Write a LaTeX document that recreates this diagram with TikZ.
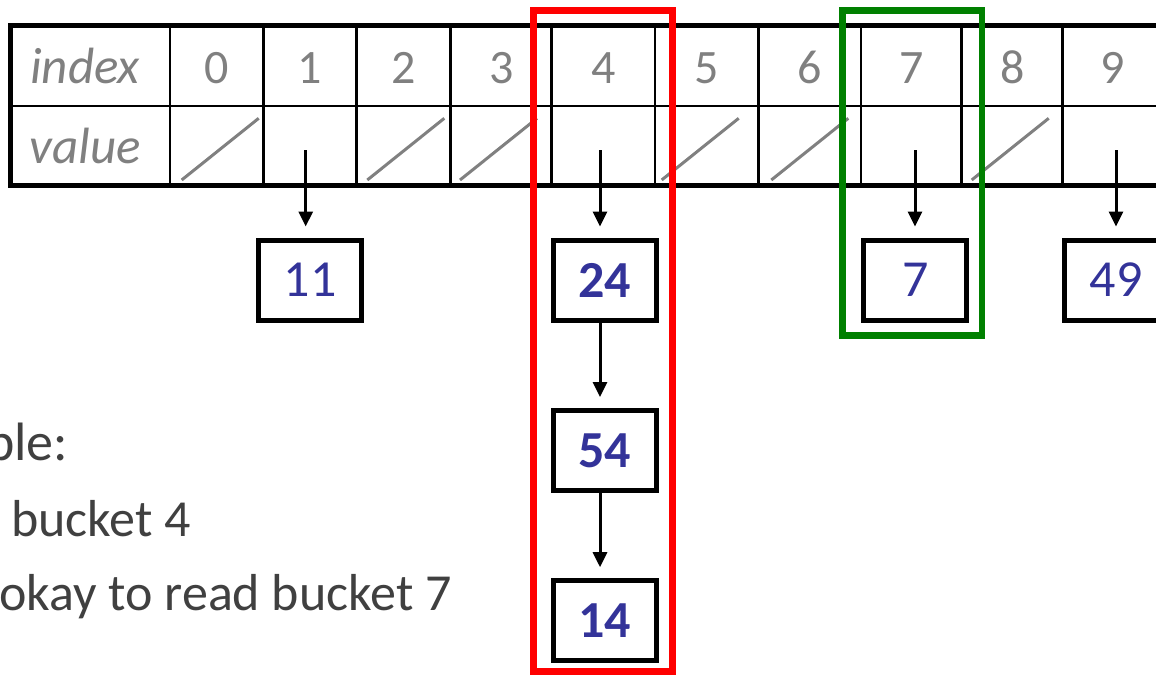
\documentclass[tikz,border=0pt]{standalone}
\usepackage{fontspec}
\setmainfont{Carlito}
\usetikzlibrary{arrows.meta}
\definecolor{numblue}{HTML}{333399}
\definecolor{txtgray}{HTML}{808080}
\definecolor{darktxt}{HTML}{404040}
\definecolor{lockred}{HTML}{FF0000}
\definecolor{readgreen}{HTML}{008000}
\begin{document}
\begin{tikzpicture}[x=1pt,y=-1pt,
  cellline/.style={line width=2.7pt,black},
  outerline/.style={line width=5pt,black},
  slash/.style={line width=3pt,txtgray},
  idx/.style={font=\fontsize{48}{58}\selectfont,text=txtgray,anchor=base,inner sep=0pt},
  rowlabel/.style={idx,font=\fontsize{51}{60}\selectfont\itshape},
  bucket/.style={draw,line width=5pt,minimum width=103pt,minimum height=80pt,inner sep=0pt,font=\fontsize{52}{62}\selectfont,text=numblue},
  ptr/.style={line width=3pt,-{Triangle[width=14pt,length=15pt]},shorten >=11pt},
  note/.style={anchor=base west,inner sep=0pt,text=darktxt},
  hilite/.style={draw,fill=none}]
\useasboundingbox (0,0) rectangle (1156,675);
\clip (0,0) rectangle (1156,675);
% table lines
\foreach \x in {170,263.5,356.7,450.7,551.7,655,758.3,861,961.7,1062.7}
  \draw[cellline] (\x,25.5) -- (\x,185.5);
\draw[cellline] (10.5,106) -- (1170,106);
\draw[outerline] (1170,25.5) -- (10.5,25.5) -- (10.5,185.5) -- (1170,185.5);
% empty-bucket slashes
\foreach \x in {181.7,367.3,460,661.7,771.3,971.7}
  \draw[slash] (\x,180) -- ++(77,-61.7);
% labels
\node[rowlabel] (lidx) at (85,83.3) {index};
\node[rowlabel] (lval) at (85,163.3) {value};
\node[idx] (i0) at (216.7,83.3) {0};
\node[idx] (i1) at (310.1,83.3) {1};
\node[idx] (i2) at (403.7,83.3) {2};
\node[idx] (i3) at (501.2,83.3) {3};
\node[idx] (i4) at (603.3,83.3) {4};
\node[idx] (i5) at (706.6,83.3) {5};
\node[idx] (i6) at (809.6,83.3) {6};
\node[idx] (i7) at (911.3,83.3) {7};
\node[idx] (i8) at (1012.2,83.3) {8};
\node[idx] (i9) at (1112.9,83.3) {9};
% pointer origins in value cells
\coordinate (v1) at (305.7,150);
\coordinate (v4) at (600,150);
\coordinate (v7) at (915,150);
\coordinate (v9) at (1116,150);
% bucket nodes
\node[bucket] (b11) at (310.3,280) {11};
\node[bucket] (b24) at (604.7,280) {\bfseries 24};
\node[bucket] (b54) at (604.7,450.5) {\bfseries 54};
\node[bucket] (b14) at (604.7,620.7) {\bfseries 14};
\node[bucket] (b7) at (915.2,280) {7};
\node[bucket] (b49) at (1116,280) {49};
% pointers
\draw[ptr] (v1) -- (v1 |- b11.north);
\draw[ptr] (v4) -- (v4 |- b24.north);
\draw[ptr] (v4 |- b24.south) -- (v4 |- b54.north);
\draw[ptr] (v4 |- b54.south) -- (v4 |- b14.north);
\draw[ptr] (v7) -- (v7 |- b7.north);
\draw[ptr] (v9) -- (v9 |- b49.north);
% highlight frames
\draw[hilite,lockred,line width=7pt] (533,10.3) rectangle (672,671);
\draw[hilite,readgreen,line width=6.5pt] (842.5,10.3) rectangle (982,335.5);
% left text
\node[note,font=\fontsize{54}{64}\selectfont] (t1) at (-14,460) {ble:};
\node[note,font=\fontsize{52}{62}\selectfont] (t2) at (11,536.7) {bucket 4};
\node[note,font=\fontsize{52}{62}\selectfont] (t3) at (-1,610) {okay to read bucket 7};
\end{tikzpicture}
\end{document}
